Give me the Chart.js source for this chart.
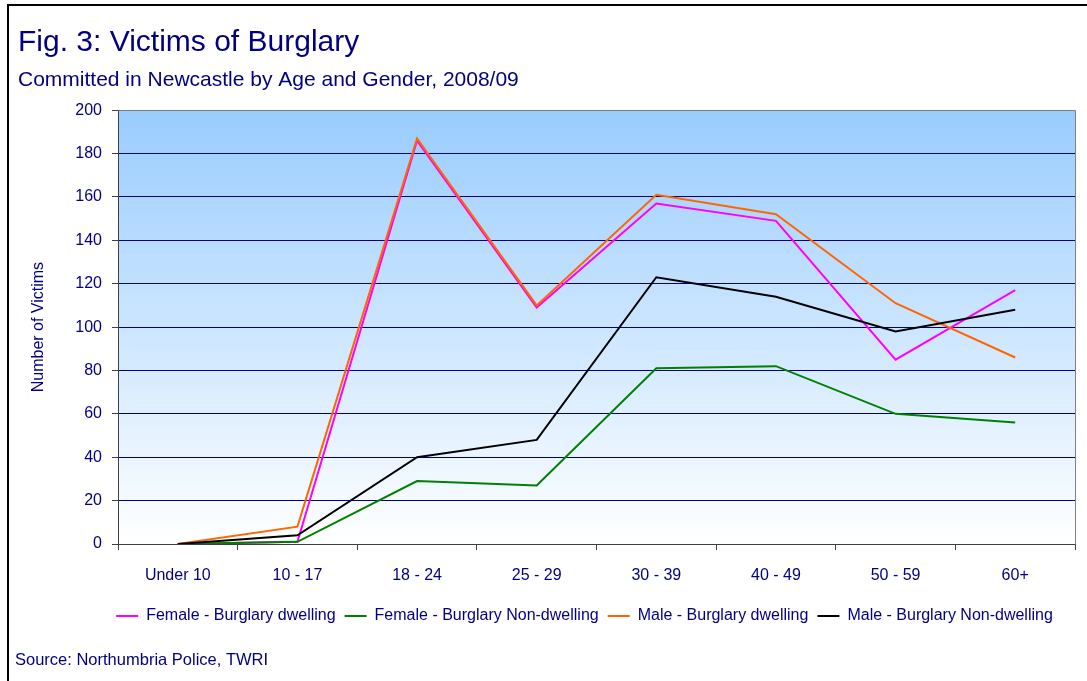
<!DOCTYPE html>
<html>
<head>
<meta charset="utf-8">
<script src="https://cdn.jsdelivr.net/npm/chart.js@4.4.1/dist/chart.umd.min.js"></script>
<style>
  html, body { margin: 0; padding: 0; background: #ffffff; }
  #wrap { position: relative; width: 1087px; height: 681px; }
</style>
</head>
<body>
<div id="wrap"><canvas id="c"></canvas></div>
<script>
// ---- Data ----
const categories = ['Under 10', '10 - 17', '18 - 24', '25 - 29', '30 - 39', '40 - 49', '50 - 59', '60+'];
const femaleDwelling    = [0, 1, 186, 109, 157, 149, 85, 117];
const femaleNonDwelling = [0, 1, 29, 27, 81, 82, 60, 56];
const maleDwelling      = [0, 8, 187, 110, 161, 152, 111, 86];
const maleNonDwelling   = [0, 4, 40, 48, 123, 114, 98, 108];
const seriesNames = ['Female - Burglary dwelling', 'Female - Burglary Non-dwelling', 'Male - Burglary dwelling', 'Male - Burglary Non-dwelling'];
const yTicks = [0, 20, 40, 60, 80, 100, 120, 140, 160, 180, 200];

const titleText = 'Fig. 3: Victims of Burglary';
const subtitleText = 'Committed in Newcastle by Age and Gender, 2008/09';
const yAxisTitle = 'Number of Victims';
const sourceText = 'Source: Northumbria Police, TWRI';

// ---- Styling ----
const NAVY = '#000080';
const FONT = "'Liberation Sans', Arial, Helvetica, sans-serif";
Chart.defaults.font.family = FONT;
Chart.defaults.color = NAVY;

const plotBackground = {
  id: 'plotBackground',
  beforeDraw(chart) {
    const {ctx, chartArea: a} = chart;
    const g = ctx.createLinearGradient(0, a.top, 0, a.bottom);
    g.addColorStop(0, '#99ccff');
    g.addColorStop(1, '#ffffff');
    ctx.save();
    ctx.fillStyle = '#ffffff';
    ctx.fillRect(0, 0, chart.width, chart.height);
    ctx.fillStyle = g;
    ctx.fillRect(a.left, a.top, a.right - a.left, a.bottom - a.top);
    ctx.restore();
  },
  afterDraw(chart) {
    const {ctx, chartArea: a} = chart;
    ctx.save();
    // plot area frame (top and right)
    ctx.strokeStyle = '#808080';
    ctx.lineWidth = 1;
    ctx.beginPath();
    ctx.moveTo(Math.round(a.left) + 0.5, Math.round(a.top) + 0.5);
    ctx.lineTo(Math.round(a.right) + 0.5, Math.round(a.top) + 0.5);
    ctx.lineTo(Math.round(a.right) + 0.5, Math.round(a.bottom) + 0.5);
    ctx.stroke();
    // outer frame (top and left, as cropped in the original)
    ctx.fillStyle = '#000000';
    ctx.fillRect(7, 4, chart.width - 7, 2);
    ctx.fillRect(7, 4, 2, chart.height - 4);
    // source note
    ctx.fillStyle = NAVY;
    ctx.font = '16.5px ' + FONT;
    ctx.textBaseline = 'alphabetic';
    ctx.textAlign = 'left';
    ctx.fillText(sourceText, 15, 665);
    ctx.restore();
  }
};

const legendShift = {
  id: 'legendShift',
  afterLayout(chart) {
    const L = chart.legend;
    if (!L) return;
    const dx = 38;
    L.left += dx;
    L.right += dx;
  }
};

const colors = ['#ff00ff', '#008000', '#ff6600', '#000000'];
const values = [femaleDwelling, femaleNonDwelling, maleDwelling, maleNonDwelling];

const datasets = values.map((v, i) => ({
  label: seriesNames[i],
  data: v,
  borderColor: colors[i],
  backgroundColor: colors[i],
  borderWidth: 2,
  pointRadius: 0,
  pointHoverRadius: 0,
  tension: 0,
  fill: false,
  order: 4 - i
}));

new Chart(document.getElementById('c'), {
  type: 'line',
  data: { labels: categories, datasets },
  options: {
    responsive: true,
    maintainAspectRatio: false,
    animation: false,
    events: [],
    layout: { padding: { left: 18, right: 12, top: 0, bottom: 47 } },
    plugins: {
      title: {
        display: true,
        text: titleText,
        align: 'start',
        color: NAVY,
        font: { size: 30, weight: 'normal' },
        padding: { top: 25, bottom: 0 }
      },
      subtitle: {
        display: true,
        text: subtitleText,
        align: 'start',
        color: NAVY,
        font: { size: 21, weight: 'normal' },
        padding: { top: 7, bottom: 17 }
      },
      legend: {
        display: true,
        position: 'bottom',
        labels: {
          color: NAVY,
          font: { size: 16 },
          usePointStyle: true,
          pointStyle: 'line',
          pointStyleWidth: 22,
          padding: 9,
          sort: (a, b) => a.datasetIndex - b.datasetIndex
        }
      },
      tooltip: { enabled: false }
    },
    scales: {
      x: {
        type: 'category',
        offset: true,
        grid: {
          display: true,
          drawOnChartArea: false,
          drawTicks: true,
          tickLength: 6,
          tickColor: '#404040',
          offset: true
        },
        border: { display: true, color: '#404040', width: 1 },
        ticks: { color: NAVY, font: { size: 16 }, padding: 16, maxRotation: 0, autoSkip: false },
        afterFit(scale) { scale.height = 55; }
      },
      y: {
        min: 0,
        max: 200,
        afterBuildTicks(scale) { scale.ticks = yTicks.map(v => ({ value: v })); },
        grid: {
          color: NAVY,
          lineWidth: 1,
          drawTicks: true,
          tickLength: 6,
          tickColor: '#404040'
        },
        border: { display: true, color: '#404040', width: 1 },
        ticks: { color: NAVY, font: { size: 16 }, padding: 10 },
        title: {
          display: true,
          text: yAxisTitle,
          color: NAVY,
          font: { size: 16 },
          padding: { top: 11, bottom: 4 }
        },
        afterFit(scale) { scale.width = 100; }
      }
    }
  },
  plugins: [plotBackground, legendShift]
});
</script>
</body>
</html>
